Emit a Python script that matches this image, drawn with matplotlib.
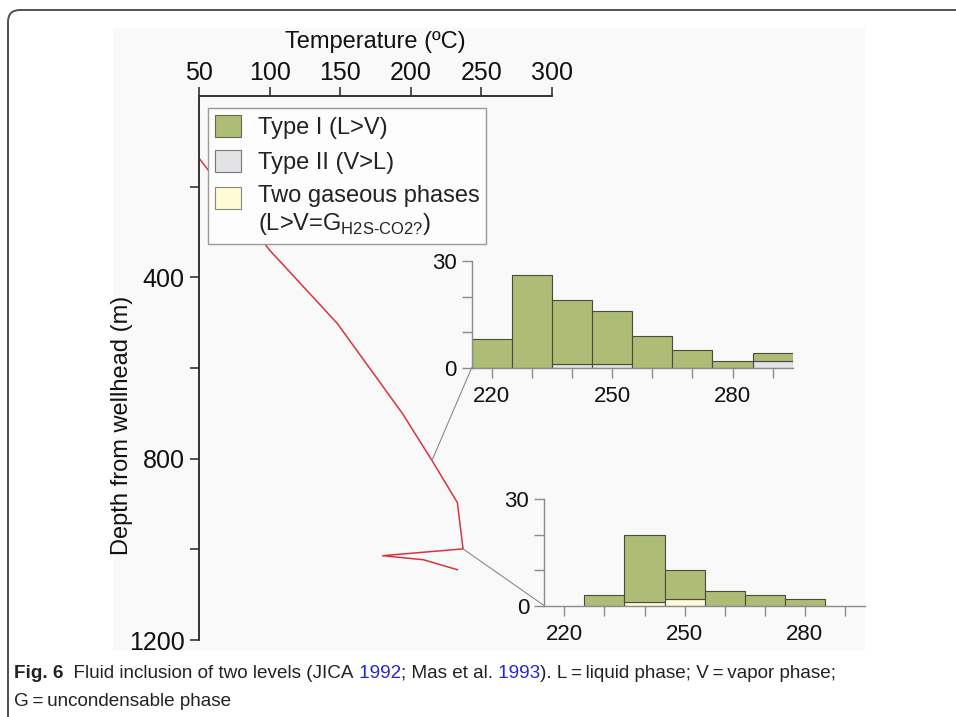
"""
Fluid inclusion figure: temperature-depth profile with two
homogenisation-temperature histograms and a figure caption.
"""
import numpy as np
import matplotlib
matplotlib.use("Agg")
import matplotlib.pyplot as plt
from matplotlib.patches import Patch, Rectangle, FancyBboxPatch, ConnectionPatch
from matplotlib.legend_handler import HandlerPatch
from matplotlib.transforms import IdentityTransform

# temperature profile of the well
temp_c = [50, 100, 148, 194, 215, 233, 237, 180, 209, 233]
depth_m = [137, 340, 502, 700, 804, 897, 999, 1014, 1023, 1045]

depth_ticks = [200, 400, 600, 800, 1000, 1200]
depth_labels = ["", "400", "", "800", "", "1200"]
temp_ticks = [50, 100, 150, 200, 250, 300]

# upper level histogram (counts per 10 degC bin)
upper_bins = [220, 230, 240, 250, 260, 270, 280, 290]
upper_type1 = [8, 26, 18, 15, 9, 5, 2, 2]
upper_type2 = [0, 0, 1, 1, 0, 0, 0, 2]

# lower level histogram
lower_bins = [230, 240, 250, 260, 270, 280]
lower_type1 = [3, 19, 8, 4, 3, 2]
lower_gas = [0, 1, 2, 0, 0, 0]

hist_ticks = [220, 230, 240, 250, 260, 270, 280, 290]
hist_labels = ["220", "", "", "250", "", "", "280", ""]
count_ticks = [0, 10, 20, 30]
count_labels = ["0", "", "", "30"]

legend_labels = ["Type I (L>V)", "Type II (V>L)",
                 "Two gaseous phases\n" r"(L>V=G$_{\mathregular{H2S\text{-}CO2?}}$)"]

caption_line1 = [("Fig. 6", "bold", "#222222"),
                 ("  Fluid inclusion of two levels (JICA", "normal", "#222222"),
                 (" 1992", "normal", "#2525d8"),
                 ("; Mas et al.", "normal", "#222222"),
                 (" 1993", "normal", "#2525d8"),
                 ("). L\u2009=\u2009liquid phase; V\u2009=\u2009vapor phase;", "normal", "#222222")]
caption_line2 = [("G\u2009=\u2009uncondensable phase", "normal", "#222222")]

GREEN = "#aebd75"
GRAY = "#e3e3e6"
YELLOW = "#fffbd6"
EDGE = "#4a4a42"
AXGRAY = "#8c8c8c"

plt.rcParams["font.family"] = ["Liberation Sans", "DejaVu Sans"]
plt.rcParams["mathtext.fontset"] = "custom"
plt.rcParams["mathtext.rm"] = "Liberation Sans"

W, H = 956, 717
fig = plt.figure(figsize=(W / 100, H / 100), dpi=100)
fig.patch.set_facecolor("white")


def px_box(x0, y0, x1, y1):
    return [x0 / W, 1 - y1 / H, (x1 - x0) / W, (y1 - y0) / H]


# light panel behind the artwork and the rounded frame of the figure
fig.add_artist(Rectangle((113 / W, 1 - 651 / H), 752 / W, 623 / H,
                         transform=fig.transFigure, fc="#f9f9f9", ec="none", zorder=-2))
fig.add_artist(FancyBboxPatch((8, -40), 1000, H - 10 + 40, transform=IdentityTransform(),
                              boxstyle="round,pad=0,rounding_size=12",
                              fc="none", ec="#505050", lw=1.4, zorder=-1))

# main profile
ax = fig.add_axes(px_box(199, 96, 552, 640))
ax.set_facecolor("none")
ax.plot(temp_c, depth_m, color="#d9343f", lw=1.1, zorder=2)
ax.set_xlim(50, 300)
ax.set_ylim(1200, 0)
ax.xaxis.tick_top()
ax.xaxis.set_label_position("top")
ax.set_xticks(temp_ticks)
ax.set_yticks(depth_ticks)
ax.set_yticklabels(depth_labels)
for s in ["right", "bottom"]:
    ax.spines[s].set_visible(False)
for s in ["top", "left"]:
    ax.spines[s].set_color("#333333")
    ax.spines[s].set_linewidth(1.4)
ax.tick_params(axis="both", direction="out", length=6.5, width=1.2, color="#333333",
               labelsize=18, labelcolor="#111111")
ax.tick_params(axis="x", pad=1.5)
ax.tick_params(axis="y", pad=4)
ax.set_xlabel("Temperature (ºC)", fontsize=17, labelpad=9, color="#111111")
ax.set_ylabel("Depth from wellhead (m)", fontsize=17, color="#111111")
ax.yaxis.set_label_coords(-0.187, 0.394)


def top_patch(legend, orig_handle, xdescent, ydescent, width, height, fontsize):
    # swatch of the two-line entry sits level with its first line
    return Rectangle((-xdescent, -ydescent + 0.6 * fontsize), width, height)


handles = [Patch(fc=GREEN, ec="#666655", lw=0.8),
           Patch(fc=GRAY, ec="#777777", lw=0.8),
           Patch(fc=YELLOW, ec="#888877", lw=0.8)]
leg = ax.legend(handles, legend_labels, loc="upper left", bbox_to_anchor=(0.0255, 0.978),
                borderaxespad=0, fontsize=17, fancybox=False, framealpha=1,
                facecolor="#fdfdfd", edgecolor="#9a9a9a", handlelength=1.1,
                handleheight=1.06, handletextpad=0.7, labelspacing=0.47, borderpad=0.3,
                handler_map={handles[2]: HandlerPatch(patch_func=top_patch)})
leg.get_frame().set_linewidth(1.0)
for t in leg.get_texts():
    t.set_color("#222222")
leg.set_zorder(5)


def style_inset(a):
    a.set_facecolor("none")
    a.set_xlim(215, 295)
    a.set_ylim(0, 30)
    a.set_xticks(hist_ticks)
    a.set_xticklabels(hist_labels)
    a.set_yticks(count_ticks)
    a.set_yticklabels(count_labels)
    for s in ["right", "top"]:
        a.spines[s].set_visible(False)
    for s in ["left", "bottom"]:
        a.spines[s].set_color(AXGRAY)
        a.spines[s].set_linewidth(1.0)
    a.tick_params(axis="both", direction="out", length=7, width=1.0, color=AXGRAY,
                  labelsize=16, labelcolor="#111111")
    a.tick_params(axis="x", pad=6)
    a.tick_params(axis="y", pad=4)


ins1 = fig.add_axes(px_box(471.7, 261, 792.7, 367.7))
ins1.bar(upper_bins, upper_type2, width=10, color=GRAY, edgecolor=EDGE, lw=0.8)
ins1.bar(upper_bins, upper_type1, bottom=upper_type2, width=10, color=GREEN,
         edgecolor=EDGE, lw=0.8)
style_inset(ins1)

ins2 = fig.add_axes(px_box(544.3, 499, 865, 605.7))
ins2.bar(lower_bins, lower_gas, width=10, color=YELLOW, edgecolor=EDGE, lw=0.8)
ins2.bar(lower_bins, lower_type1, bottom=lower_gas, width=10, color=GREEN,
         edgecolor=EDGE, lw=0.8)
style_inset(ins2)

# leader lines from the sampled depths to the histograms
for idx, inset in [(4, ins1), (6, ins2)]:
    con = ConnectionPatch(xyA=(temp_c[idx], depth_m[idx]), coordsA=ax.transData,
                          xyB=(215, 0), coordsB=inset.transData,
                          color="#8a8a8a", lw=0.8)
    fig.add_artist(con)

# caption, written piece by piece so the years can be blue
renderer = fig.canvas.get_renderer()
cap_family = ["Liberation Sans", "DejaVu Sans"]


def write_line(parts, x, y_base, size):
    texts = []
    for text, weight, color in parts:
        t = fig.text(x / W, 1 - y_base / H, text, fontsize=size, fontweight=weight,
                     color=color, family=cap_family, va="baseline", ha="left")
        x += t.get_window_extent(renderer).width
        texts.append(t)
    return texts, x


# size the caption so that its first line spans the same width as the original
trial, end = write_line(caption_line1, 14, 678, 14)
for t in trial:
    t.remove()
cap_size = 14 * (843 - 14) / (end - 14)
write_line(caption_line1, 14, 678, cap_size)
write_line(caption_line2, 14, 705.5, cap_size)

fig.savefig("out.png", dpi=100)
